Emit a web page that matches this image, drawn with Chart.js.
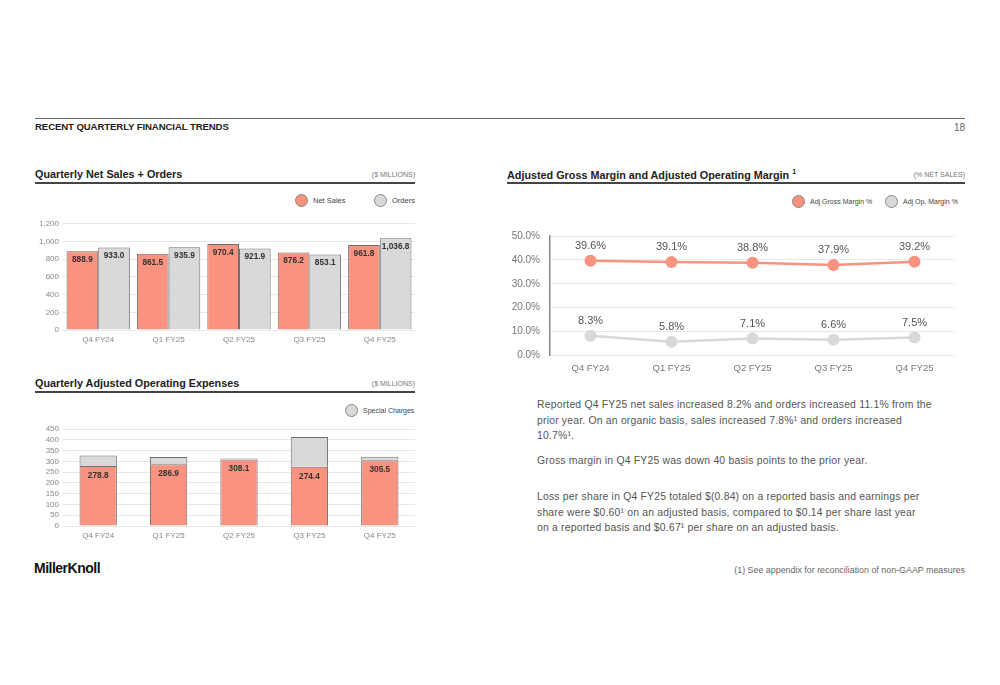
<!DOCTYPE html>
<html>
<head>
<meta charset="utf-8">
<script src="https://cdn.jsdelivr.net/npm/chart.js@4.4.1/dist/chart.umd.min.js"></script>
<style>
  html,body{margin:0;padding:0;background:#fff;}
  body{width:1000px;height:685px;position:relative;overflow:hidden;font-family:"Liberation Sans",Arial,sans-serif;}
  .abs{position:absolute;white-space:nowrap;}
  .rule{position:absolute;height:0;}
  .title{font-weight:bold;font-size:10.8px;color:#222;}
  .unit{font-size:7px;color:#777;}
  .leg{position:absolute;display:flex;align-items:center;font-size:7.5px;color:#444;}
  .dot{width:13px;height:13px;border-radius:50%;border:1px solid #888;box-sizing:border-box;margin-right:5px;}
  .para{font-size:10.4px;color:#555;line-height:15.5px;letter-spacing:0.2px;}
  canvas{position:absolute;}
</style>
</head>
<body>
<div class="rule" style="left:35px;top:118px;width:930px;border-top:1px solid #666;"></div>
<div class="abs" style="left:35px;top:121px;font-size:9.6px;font-weight:bold;color:#222;letter-spacing:-0.1px;">RECENT QUARTERLY FINANCIAL TRENDS</div>
<div class="abs" style="left:954px;top:122px;font-size:10px;color:#666;">18</div>

<!-- Chart 1 header -->
<div class="abs title" style="left:35px;top:168px;">Quarterly Net Sales + Orders</div>
<div class="abs unit" style="right:585px;top:171px;">($ MILLIONS)</div>
<div class="rule" style="left:35px;top:182px;width:380px;border-top:2px solid #444;"></div>
<div class="leg" style="left:295px;top:194px;"><div class="dot" style="background:#F9927F;"></div>Net Sales</div>
<div class="leg" style="left:374px;top:194px;"><div class="dot" style="background:#D9D9D9;"></div>Orders</div>

<!-- Chart 2 header -->
<div class="abs title" style="left:35px;top:377px;">Quarterly Adjusted Operating Expenses</div>
<div class="abs unit" style="right:585px;top:380px;">($ MILLIONS)</div>
<div class="rule" style="left:35px;top:391px;width:380px;border-top:2px solid #444;"></div>
<div class="leg" style="left:345px;top:404px;font-size:7px;"><div class="dot" style="background:#D9D9D9;"></div>Special Charges</div>

<!-- Chart 3 header -->
<div class="abs title" style="left:507px;top:168px;">Adjusted Gross Margin and Adjusted Operating Margin <sup style="font-size:7px;">1</sup></div>
<div class="abs unit" style="right:35px;top:171px;">(% NET SALES)</div>
<div class="rule" style="left:507px;top:182px;width:458px;border-top:2px solid #444;"></div>
<div class="leg" style="left:792px;top:195px;font-size:7px;"><div class="dot" style="background:#F9927F;"></div>Adj Gross Margin %</div>
<div class="leg" style="left:885px;top:195px;font-size:7px;"><div class="dot" style="background:#D9D9D9;"></div>Adj Op. Margin %</div>

<canvas id="c1" style="left:30px;top:215px;" width="390" height="135"></canvas>
<canvas id="c2" style="left:30px;top:420px;" width="390" height="126"></canvas>
<canvas id="c3" style="left:500px;top:220px;" width="465" height="160"></canvas>

<div class="abs para" style="left:537px;top:397px;">Reported Q4 FY25 net sales increased 8.2% and orders increased 11.1% from the<br>prior year. On an organic basis, sales increased 7.8%¹ and orders increased<br>10.7%¹.</div>
<div class="abs para" style="left:537px;top:453px;">Gross margin in Q4 FY25 was down 40 basis points to the prior year.</div>
<div class="abs para" style="left:537px;top:489px;">Loss per share in Q4 FY25 totaled $(0.84) on a reported basis and earnings per<br>share were $0.60¹ on an adjusted basis, compared to $0.14 per share last year<br>on a reported basis and $0.67¹ per share on an adjusted basis.</div>
<div class="abs" style="right:35px;top:565px;font-size:8.9px;color:#666;">(1) See appendix for reconciliation of non-GAAP measures</div>
<div class="abs" style="left:34px;top:560px;font-size:14px;font-weight:bold;color:#111;letter-spacing:-0.5px;">MillerKnoll</div>

<script>
const quarters = ["Q4 FY24","Q1 FY25","Q2 FY25","Q3 FY25","Q4 FY25"];
const netSales = [888.9, 861.5, 970.4, 876.2, 961.8];
const orders = [933.0, 935.9, 921.9, 853.1, 1036.8];
const adjOpex = [278.8, 286.9, 308.1, 274.4, 305.5];
const specialCharges = [48, 33, 5, 139, 16];
const grossMargin = [39.6, 39.1, 38.8, 37.9, 39.2];
const opMargin = [8.3, 5.8, 7.1, 6.6, 7.5];
const salesTicks = [0,200,400,600,800,1000,1200];
const opexTicks = [0,50,100,150,200,250,300,350,400,450];

const SALMON = "#F9927F", GREY = "#D9D9D9", EDGE = "#6f6f6f";
Chart.defaults.font.family = "'Liberation Sans', Arial, sans-serif";
Chart.defaults.animation = false;
Chart.defaults.responsive = false;

const labelPlugin = {
  id: "vlabels",
  afterDatasetsDraw(chart, args, opts) {
    const ctx = chart.ctx;
    ctx.save();
    ctx.textAlign = "center";
    ctx.textBaseline = "middle";
    chart.data.datasets.forEach((ds, di) => {
      if (!opts.datasets || !opts.datasets.includes(di)) return;
      const meta = chart.getDatasetMeta(di);
      meta.data.forEach((el, i) => {
        const v = ds.data[i];
        ctx.font = opts.font;
        ctx.fillStyle = opts.color;
        ctx.fillText(opts.format(v), el.x, el.y + opts.offset);
      });
    });
    ctx.restore();
  }
};

const fmt1 = v => v.toLocaleString("en-US",{minimumFractionDigits:1,maximumFractionDigits:1});

function yW(w){ return s => { s.width = w; }; }
function xH(h){ return s => { s.height = h; }; }

new Chart(document.getElementById("c1"), {
  type: "bar",
  data: { labels: quarters, datasets: [
    { label: "Net Sales", data: netSales, backgroundColor: SALMON, borderColor: EDGE, borderWidth: 1 },
    { label: "Orders", data: orders, backgroundColor: GREY, borderColor: EDGE, borderWidth: 1 }
  ]},
  options: {
    layout: { padding: { top: 8, right: 5 } },
    categoryPercentage: 0.9, barPercentage: 1.0,
    plugins: { legend: { display: false }, tooltip: { enabled: false },
      vlabels: { datasets: [0,1], offset: 8.5, font: "bold 8.3px 'Liberation Sans', Arial", color: "#333", format: fmt1 } },
    scales: {
      x: { grid: { display: false, drawTicks: false }, border: { display: false },
           ticks: { color: "#888", font: { size: 8 }, padding: 5 }, afterFit: xH(20) },
      y: { min: 0, max: 1200, afterBuildTicks: s => { s.ticks = salesTicks.map(v => ({ value: v })); },
           grid: { color: "#e8e8e8", drawTicks: false }, border: { display: false },
           ticks: { autoSkip: false, color: "#888", font: { size: 8 }, padding: 4, callback: v => v.toLocaleString("en-US") },
           afterFit: yW(33) }
    }
  },
  plugins: [labelPlugin]
});

new Chart(document.getElementById("c2"), {
  type: "bar",
  data: { labels: quarters, datasets: [
    { label: "Adjusted Operating Expenses", data: adjOpex, backgroundColor: SALMON, borderColor: EDGE, borderWidth: 1 },
    { label: "Special Charges", data: specialCharges, backgroundColor: GREY, borderColor: EDGE, borderWidth: 1 }
  ]},
  options: {
    layout: { padding: { top: 9, right: 5 } },
    categoryPercentage: 0.53, barPercentage: 1.0,
    plugins: { legend: { display: false }, tooltip: { enabled: false },
      vlabels: { datasets: [0], offset: 9.5, font: "bold 8.3px 'Liberation Sans', Arial", color: "#333", format: fmt1 } },
    scales: {
      x: { stacked: true, grid: { display: false, drawTicks: false }, border: { display: false },
           ticks: { color: "#888", font: { size: 8 }, padding: 5 }, afterFit: xH(20) },
      y: { stacked: true, min: 0, max: 450, afterBuildTicks: s => { s.ticks = opexTicks.map(v => ({ value: v })); },
           grid: { color: "#e8e8e8", drawTicks: false }, border: { display: false },
           ticks: { autoSkip: false, color: "#888", font: { size: 8 }, padding: 4 },
           afterFit: yW(33) }
    }
  },
  plugins: [labelPlugin]
});

new Chart(document.getElementById("c3"), {
  type: "line",
  data: { labels: quarters, datasets: [
    { label: "Adj Gross Margin %", data: grossMargin, borderColor: SALMON, backgroundColor: SALMON,
      borderWidth: 2.5, pointRadius: 6, pointBorderWidth: 0, pointBackgroundColor: SALMON },
    { label: "Adj Op. Margin %", data: opMargin, borderColor: GREY, backgroundColor: GREY,
      borderWidth: 2.5, pointRadius: 6, pointBorderWidth: 0, pointBackgroundColor: GREY }
  ]},
  options: {
    layout: { padding: { top: 9, right: 10 } },
    plugins: { legend: { display: false }, tooltip: { enabled: false },
      vlabels: { datasets: [0,1], offset: -15, font: "11px 'Liberation Sans', Arial", color: "#555", format: v => v.toFixed(1) + "%" } },
    scales: {
      x: { offset: true, grid: { display: false, drawTicks: false }, border: { display: false },
           ticks: { color: "#777", font: { size: 9.5 }, padding: 7 }, afterFit: xH(24.5) },
      y: { min: 0, max: 50,
           grid: { color: "#e8e8e8", drawTicks: false }, border: { display: true, color: "#888", width: 1.5 },
           ticks: { stepSize: 10, color: "#777", font: { size: 10 }, padding: 10, callback: v => v.toFixed(1) + "%" },
           afterFit: yW(50) }
    }
  },
  plugins: [labelPlugin]
});
</script>
</body>
</html>
